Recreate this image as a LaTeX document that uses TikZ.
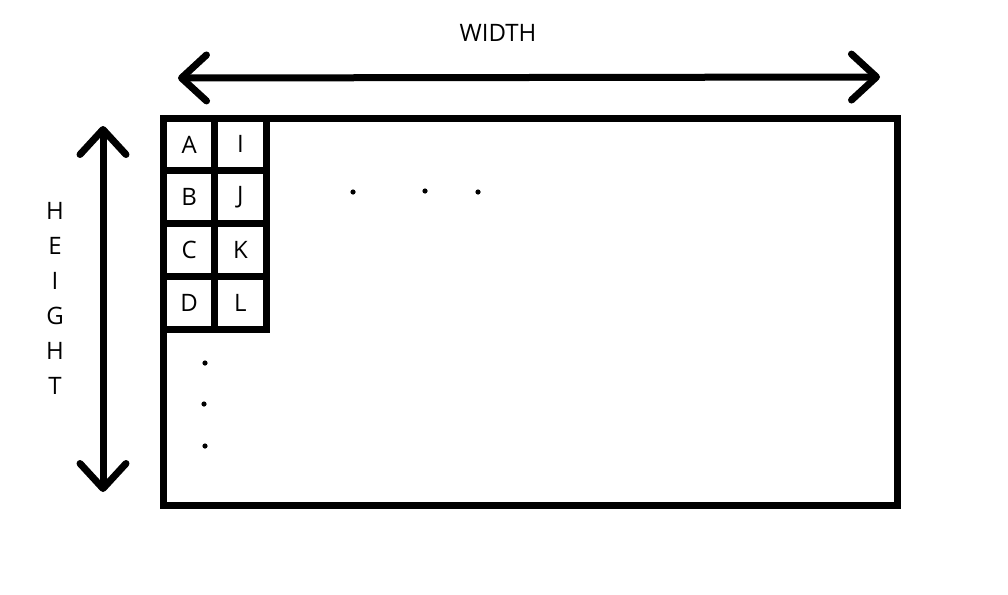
\documentclass[tikz,border=0pt]{standalone}
\usepackage{fontspec}
\setmainfont{Open Sans}
\usetikzlibrary{arrows.meta}

\tikzset{
	frame/.style={draw=black, line width=7pt},
	cell/.style={draw=black, line width=7pt, minimum width=51.25pt, minimum height=52.75pt, inner sep=0pt, font=\fontsize{24}{27}\selectfont},
	dimarrow/.style={line width=7pt, {Straight Barb[length=25pt, width=46pt, round]}-{Straight Barb[length=25pt, width=46pt, round]}},
	dimlabel/.style={font=\fontsize{24}{27}\selectfont, inner sep=0pt},
	dot/.style={fill=black}
}

\begin{document}
\begin{tikzpicture}[x=1pt, y=-1pt]
	\useasboundingbox (0,0) rectangle (1008,594);
	
	\draw[frame] (163.5,118) rectangle (897,505.5);
	
	\foreach \a/\b [count=\r from 0] in {A/I, B/J, C/K, D/L} {
		\node[cell] (\a) at (189.1,144.4+52.75*\r) {\a};
		\node[cell] (\b) at (240.4,144.4+52.75*\r) {\b};
	}
	
	\coordinate (wl) at (178,78);
	\coordinate (wr) at (880,77);
	\draw[dimarrow] (wl) -- (wr);
	\node[dimlabel] (width) at (498,33) {WIDTH};
	
	\coordinate (ht) at (103,126);
	\coordinate (hb) at (103,492);
	\draw[dimarrow] (ht) -- (hb);
	\foreach \c [count=\i from 0] in {H,E,I,G,H,T}
		\node[dimlabel] (h\i) at (55,211+35*\i) {\c};
	
	\foreach \p in {(353,192), (425,191), (478,192), (205,363), (204,404), (205,446)}
		\fill[dot] \p circle (2.6);
\end{tikzpicture}
\end{document}
